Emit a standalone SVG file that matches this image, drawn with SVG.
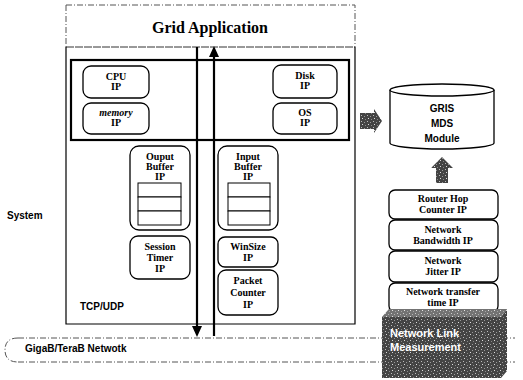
<svg xmlns="http://www.w3.org/2000/svg" width="523" height="380" viewBox="0 0 523 380">
<style>
.ip{fill:#fff;stroke:#000;stroke-width:1.3}
.ipt{font-family:"Liberation Serif",serif;font-weight:bold;font-size:10px;text-anchor:middle;fill:#000}
.sans{font-family:"Liberation Sans",Arial,sans-serif;font-weight:bold;fill:#000}
.thick{stroke:#000;stroke-width:2.2;fill:none}
.thin{stroke:#000;stroke-width:1.2;fill:none}
.dash{stroke:#555;stroke-width:1;fill:none;stroke-dasharray:6 2 1 2}
.buf{fill:#fff;stroke:#000;stroke-width:1}
.noise{fill:url(#np)}
</style>
<defs>
<pattern id="np" width="6" height="6" patternUnits="userSpaceOnUse">
<rect width="6" height="6" fill="#444"/>
<rect x="1" y="1" width="1" height="1" fill="#bbb"/>
<rect x="4" y="2" width="1" height="1" fill="#999"/>
<rect x="2" y="4" width="1" height="1" fill="#ddd"/>
<rect x="5" y="5" width="1" height="1" fill="#888"/>
</pattern>
</defs>

<g id="network">
<path class="dash" d="M18,338 L515,338 M18,362 L515,362 M18,338 Q5,338 5,350 Q5,362 18,362"/>
<text class="sans" x="25" y="352" font-size="10">GigaB/TeraB Netwotk</text>
</g>

<g id="system">
<path class="dash" d="M66,5 L355,5 L355,47 M66,5 L66,47"/>
<line x1="66" y1="47" x2="355" y2="47" stroke="#333" stroke-width="1" stroke-dasharray="8 1"/>
<text x="210" y="33" font-family="Liberation Serif,serif" font-weight="bold" font-size="16" text-anchor="middle">Grid Application</text>
<path class="thin" d="M66,47 L66,324 L355,324 L355,47"/>
<text class="sans" x="7" y="219" font-size="10">System</text>
<text class="sans" x="80" y="310" font-size="10">TCP/UDP</text>
</g>

<g id="resources">
<rect class="thick" x="71" y="60" width="278" height="80"/>
</g>

<g id="cpu"><rect class="ip" x="83" y="66" width="66" height="32" rx="8"/>
<text class="ipt" x="116" y="80">CPU</text><text class="ipt" x="116" y="90">IP</text></g>
<g id="memory"><rect class="ip" x="83" y="103" width="66" height="31" rx="8"/>
<text class="ipt" x="116" y="116" font-style="italic">memory</text><text class="ipt" x="116" y="126">IP</text></g>
<g id="disk"><rect class="ip" x="273" y="65" width="64" height="33" rx="8"/>
<text class="ipt" x="305" y="79">Disk</text><text class="ipt" x="305" y="89">IP</text></g>
<g id="os"><rect class="ip" x="273" y="103" width="64" height="31" rx="8"/>
<text class="ipt" x="305" y="116">OS</text><text class="ipt" x="305" y="126">IP</text></g>

<g id="outbuf"><rect class="ip" x="130" y="146" width="60" height="84" rx="9"/>
<text class="ipt" x="160" y="160">Ouput</text><text class="ipt" x="160" y="170">Buffer</text><text class="ipt" x="160" y="180">IP</text>
<rect class="buf" x="138" y="183" width="43" height="14"/><rect class="buf" x="138" y="197" width="43" height="14"/><rect class="buf" x="138" y="211" width="43" height="14"/></g>
<g id="session"><rect class="ip" x="130" y="236" width="60" height="43" rx="8"/>
<text class="ipt" x="160" y="250">Session</text><text class="ipt" x="160" y="261">Timer</text><text class="ipt" x="160" y="272">IP</text></g>

<g id="inbuf"><rect class="ip" x="218" y="146" width="60" height="84" rx="9"/>
<text class="ipt" x="248" y="160">Input</text><text class="ipt" x="248" y="170">Buffer</text><text class="ipt" x="248" y="180">IP</text>
<rect class="buf" x="228" y="183" width="42" height="14"/><rect class="buf" x="228" y="197" width="42" height="14"/><rect class="buf" x="228" y="211" width="42" height="14"/></g>
<g id="winsize"><rect class="ip" x="218" y="237" width="60" height="30" rx="7"/>
<text class="ipt" x="248" y="250">WinSize</text><text class="ipt" x="248" y="261">IP</text></g>
<g id="packet"><rect class="ip" x="218" y="270" width="60" height="45" rx="8"/>
<text class="ipt" x="248" y="284">Packet</text><text class="ipt" x="248" y="296">Counter</text><text class="ipt" x="248" y="308">IP</text></g>

<g id="gris">
<path d="M390,90 L390,143 A52,6 0 0 0 494,143 L494,90" fill="#fff" stroke="#000" stroke-width="1.3"/>
<ellipse cx="442" cy="90" rx="52" ry="6" fill="#fff" stroke="#000" stroke-width="1.3"/>
<text class="sans" x="442" y="112" font-size="10" text-anchor="middle">GRIS</text>
<text class="sans" x="442" y="127" font-size="10" text-anchor="middle">MDS</text>
<text class="sans" x="442" y="142" font-size="10" text-anchor="middle">Module</text>
</g>

<g id="routerhop"><rect class="ip" x="389" y="190" width="109" height="29" rx="6"/>
<text class="ipt" x="443" y="202">Router Hop</text><text class="ipt" x="443" y="213">Counter IP</text></g>
<g id="bandwidth"><rect class="ip" x="389" y="220" width="109" height="30" rx="6"/>
<text class="ipt" x="443" y="233">Network</text><text class="ipt" x="443" y="244">Bandwidth IP</text></g>
<g id="jitter"><rect class="ip" x="389" y="251" width="109" height="31" rx="6"/>
<text class="ipt" x="443" y="264">Network</text><text class="ipt" x="443" y="275">Jitter  IP</text></g>
<g id="transfer"><rect class="ip" x="389" y="283" width="109" height="29" rx="6"/>
<text class="ipt" x="443" y="295">Network transfer</text><text class="ipt" x="443" y="306">time IP</text></g>

<g id="linkmeas">
<polygon class="noise" points="382,317 389,309 507,309 501,317"/>
<polygon class="noise" points="501,317 507,309 507,371 501,378"/>
<rect class="noise" x="382" y="317" width="119" height="61"/>
<polygon points="382,317 389,309 507,309 501,317" fill="#fff" opacity="0.25"/>
<text class="sans" x="390" y="337" font-size="11" style="fill:#fff">Network Link</text>
<text class="sans" x="390" y="351" font-size="11" style="fill:#fff">Measurement</text>
</g>

<g id="connectors">
<line class="thick" x1="197" y1="47" x2="197" y2="328"/>
<polygon points="192,326 202,326 197,337" fill="#000"/>
<line class="thick" x1="214" y1="336" x2="214" y2="55"/>
<polygon points="209,57 219,57 214,46" fill="#000"/>
<polygon class="noise" points="360,113 374,113 374,109 382,121 374,133 374,129 360,129"/>
<polygon class="noise" points="436,183 448,183 448,168 453,168 442,157 431,168 436,168"/>
</g>
</svg>
